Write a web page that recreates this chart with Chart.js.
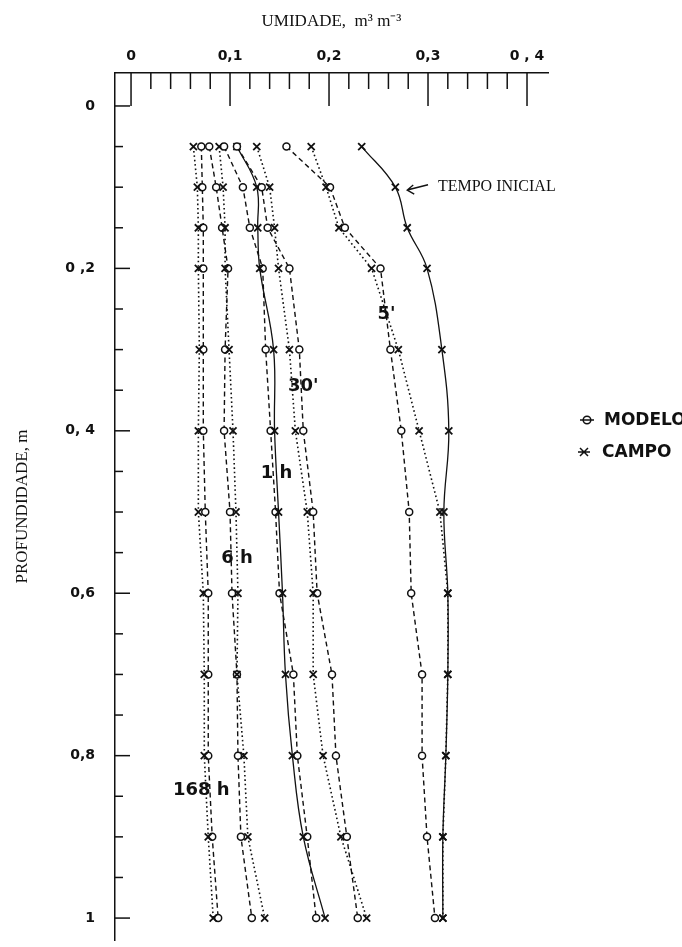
<!DOCTYPE html>
<html>
<head>
<meta charset="utf-8">
<title>Perfis de umidade</title>
<script src="https://cdn.jsdelivr.net/npm/chart.js@4.4.1/dist/chart.umd.min.js"></script>
<style>
  html, body { margin: 0; padding: 0; background: #fff; }
  #wrap { width: 682px; height: 947px; }
</style>
</head>
<body>
<div id="wrap"><canvas id="perfil" width="682" height="947"></canvas></div>
<script>
// profundidades (m)
const depths = [0.05, 0.1, 0.15, 0.2, 0.3, 0.4, 0.5, 0.6, 0.7, 0.8, 0.9, 1.0];

// umidade (m3 m-3)
const inicial    = [0.233, 0.267, 0.279, 0.299, 0.314, 0.321, 0.316, 0.320, 0.320, 0.318, 0.315, 0.315];

const modelo5    = [0.157, 0.201, 0.216, 0.252, 0.262, 0.273, 0.281, 0.283, 0.294, 0.294, 0.299, 0.307];
const campo5     = [0.182, 0.197, 0.210, 0.243, 0.270, 0.291, 0.312, 0.320, 0.320, 0.318, 0.315, 0.315];

const modelo30   = [0.107, 0.132, 0.138, 0.160, 0.170, 0.174, 0.184, 0.188, 0.203, 0.207, 0.218, 0.229];
const campo30    = [0.127, 0.140, 0.145, 0.149, 0.160, 0.166, 0.178, 0.184, 0.184, 0.194, 0.212, 0.238];

const modelo1h   = [0.094, 0.113, 0.120, 0.133, 0.136, 0.141, 0.146, 0.150, 0.164, 0.168, 0.178, 0.187];
const campo1h    = [0.107, 0.127, 0.128, 0.130, 0.144, 0.145, 0.149, 0.153, 0.156, 0.163, 0.174, 0.196];

const modelo6h   = [0.079, 0.086, 0.092, 0.098, 0.095, 0.094, 0.100, 0.102, 0.107, 0.108, 0.111, 0.122];
const campo6h    = [0.089, 0.093, 0.095, 0.095, 0.099, 0.103, 0.106, 0.108, 0.107, 0.114, 0.118, 0.135];

const modelo168h = [0.071, 0.072, 0.073, 0.073, 0.073, 0.073, 0.075, 0.078, 0.078, 0.078, 0.082, 0.088];
const campo168h  = [0.063, 0.067, 0.068, 0.068, 0.069, 0.068, 0.068, 0.073, 0.074, 0.074, 0.078, 0.083];

// rotulos dos eixos
const xTickLabels = ['0', '0,1', '0,2', '0,3', '0 , 4'];
const yTickLabels = ['0', '0 ,2', '0, 4', '0,6', '0,8', '1'];

// rotulos das curvas: [texto, umidade, profundidade]
const curveLabels = [
    ["5'", 0.258, 0.257],
    ["30'", 0.174, 0.345],
    ["1 h", 0.147, 0.452],
    ["6 h", 0.107, 0.557],
    ["168 h", 0.071, 0.843]
];

const INK = '#111';

function pts(vals) {
    return vals.map((v, i) => ({ x: v, y: depths[i] }));
}

function modelo(vals) {
    return {
        label: 'MODELO', data: pts(vals), showLine: true,
        borderColor: INK, borderWidth: 1.4, borderDash: [5, 3.5], tension: 0,
        pointStyle: 'circle', pointRadius: 3.5, pointBorderWidth: 1.5,
        pointBorderColor: INK, pointBackgroundColor: '#fff'
    };
}

function campo(vals, dash, tension) {
    return {
        label: 'CAMPO', data: pts(vals), showLine: true,
        borderColor: INK, borderWidth: dash.length ? 1.6 : 1.3, borderDash: dash, tension: tension,
        pointStyle: 'crossRot', pointRadius: 5, pointBorderWidth: 1.8,
        pointBorderColor: INK, pointBackgroundColor: INK
    };
}

const datasets = [
    campo(inicial, [], 0.4),
    campo(campo5, [1.6, 2.8], 0), modelo(modelo5),
    campo(campo30, [1.6, 2.8], 0), modelo(modelo30),
    campo(campo1h, [], 0.4), modelo(modelo1h),
    campo(campo6h, [1.6, 2.8], 0), modelo(modelo6h),
    campo(campo168h, [1.6, 2.8], 0), modelo(modelo168h)
];

// marcas dos eixos voltadas para dentro, textos e legenda
const decor = {
    id: 'decor',
    afterDraw(chart) {
        const { ctx, chartArea, scales: { x, y } } = chart;
        ctx.save();
        ctx.strokeStyle = INK;
        ctx.lineWidth = 1.5;
        x.ticks.forEach(t => {
            const px = x.getPixelForValue(t.value);
            const major = Math.round(t.value * 50) % 5 === 0;
            ctx.beginPath();
            ctx.moveTo(px, chartArea.top);
            ctx.lineTo(px, chartArea.top + (major ? 33 : 16));
            ctx.stroke();
        });
        y.ticks.forEach(t => {
            const py = y.getPixelForValue(t.value);
            const major = Math.round(t.value * 20) % 4 === 0;
            ctx.beginPath();
            ctx.moveTo(chartArea.left, py);
            ctx.lineTo(chartArea.left + (major ? 15 : 8), py);
            ctx.stroke();
        });

        ctx.fillStyle = INK;
        ctx.textAlign = 'center';
        ctx.textBaseline = 'middle';
        ctx.font = 'bold 18px "DejaVu Sans"';
        curveLabels.forEach(([txt, vx, vy]) => {
            ctx.fillText(txt, x.getPixelForValue(vx), y.getPixelForValue(vy));
        });

        // TEMPO INICIAL com seta
        ctx.font = '16px "Liberation Serif"';
        ctx.textAlign = 'left';
        ctx.fillText('TEMPO INICIAL', x.getPixelForValue(0.31), y.getPixelForValue(0.0998));
        const tipX = x.getPixelForValue(0.279), tipY = y.getPixelForValue(0.1035);
        const tailX = x.getPixelForValue(0.300), tailY = y.getPixelForValue(0.097);
        ctx.lineWidth = 1.4;
        ctx.beginPath();
        ctx.moveTo(tailX, tailY);
        ctx.lineTo(tipX, tipY);
        ctx.moveTo(tipX + 6, tipY - 5);
        ctx.lineTo(tipX, tipY);
        ctx.lineTo(tipX + 7, tipY + 4);
        ctx.stroke();

        // legenda
        ctx.font = 'bold 17px "DejaVu Sans"';
        ctx.lineWidth = 1.5;
        ctx.beginPath();
        ctx.moveTo(580, 420); ctx.lineTo(594, 420);
        ctx.stroke();
        ctx.beginPath();
        ctx.arc(587, 420, 3.8, 0, Math.PI * 2);
        ctx.stroke();
        ctx.fillText('MODELO', 604, 421);
        ctx.beginPath();
        ctx.moveTo(578, 452); ctx.lineTo(590, 452);
        ctx.moveTo(580, 448); ctx.lineTo(588, 456);
        ctx.moveTo(588, 448); ctx.lineTo(580, 456);
        ctx.stroke();
        ctx.fillText('CAMPO', 602, 453);
        ctx.restore();
    }
};

const tickFont = { family: 'DejaVu Sans', size: 14, weight: 'bold' };
const titleFont = { family: 'Liberation Serif', size: 17 };

new Chart(document.getElementById('perfil'), {
    type: 'scatter',
    data: { datasets: datasets },
    options: {
        responsive: false,
        animation: false,
        layout: { padding: { top: 0, left: 0, right: 134, bottom: 7 } },
        plugins: { legend: { display: false }, tooltip: { enabled: false } },
        scales: {
            x: {
                position: 'top',
                min: -0.0162, max: 0.4212,
                afterBuildTicks: s => {
                    const t = [];
                    for (let i = 0; i <= 20; i++) t.push({ value: i * 0.02 });
                    s.ticks = t;
                },
                afterFit: s => { s.height = 73; s.paddingLeft = 0; s.paddingRight = 0; },
                grid: { display: false, drawTicks: false },
                border: { display: true, color: INK, width: 1.5 },
                ticks: {
                    autoSkip: false, maxRotation: 0, padding: 8, color: INK, font: tickFont,
                    callback: v => {
                        const i = Math.round(v * 50);
                        return i % 5 === 0 ? xTickLabels[i / 5] : '';
                    }
                },
                title: {
                    display: true, text: 'UMIDADE,  m³ m⁻³', color: INK, font: titleFont,
                    padding: { top: 11, bottom: 0 }
                }
            },
            y: {
                reverse: true,
                min: -0.0406, max: 1.027,
                afterBuildTicks: s => {
                    const t = [];
                    for (let i = 0; i <= 20; i++) t.push({ value: i * 0.05 });
                    s.ticks = t;
                },
                afterFit: s => { s.width = 115; s.paddingTop = 0; s.paddingBottom = 0; },
                grid: { display: false, drawTicks: false },
                border: { display: true, color: INK, width: 1.5 },
                ticks: {
                    autoSkip: false, padding: 20, color: INK, font: tickFont,
                    callback: v => {
                        const i = Math.round(v * 20);
                        return i % 4 === 0 ? yTickLabels[i / 4] : '';
                    }
                },
                title: {
                    display: true, text: 'PROFUNDIDADE, m', color: INK, font: titleFont,
                    padding: { top: 12, bottom: 0 }
                }
            }
        }
    },
    plugins: [decor]
});
</script>
</body>
</html>
